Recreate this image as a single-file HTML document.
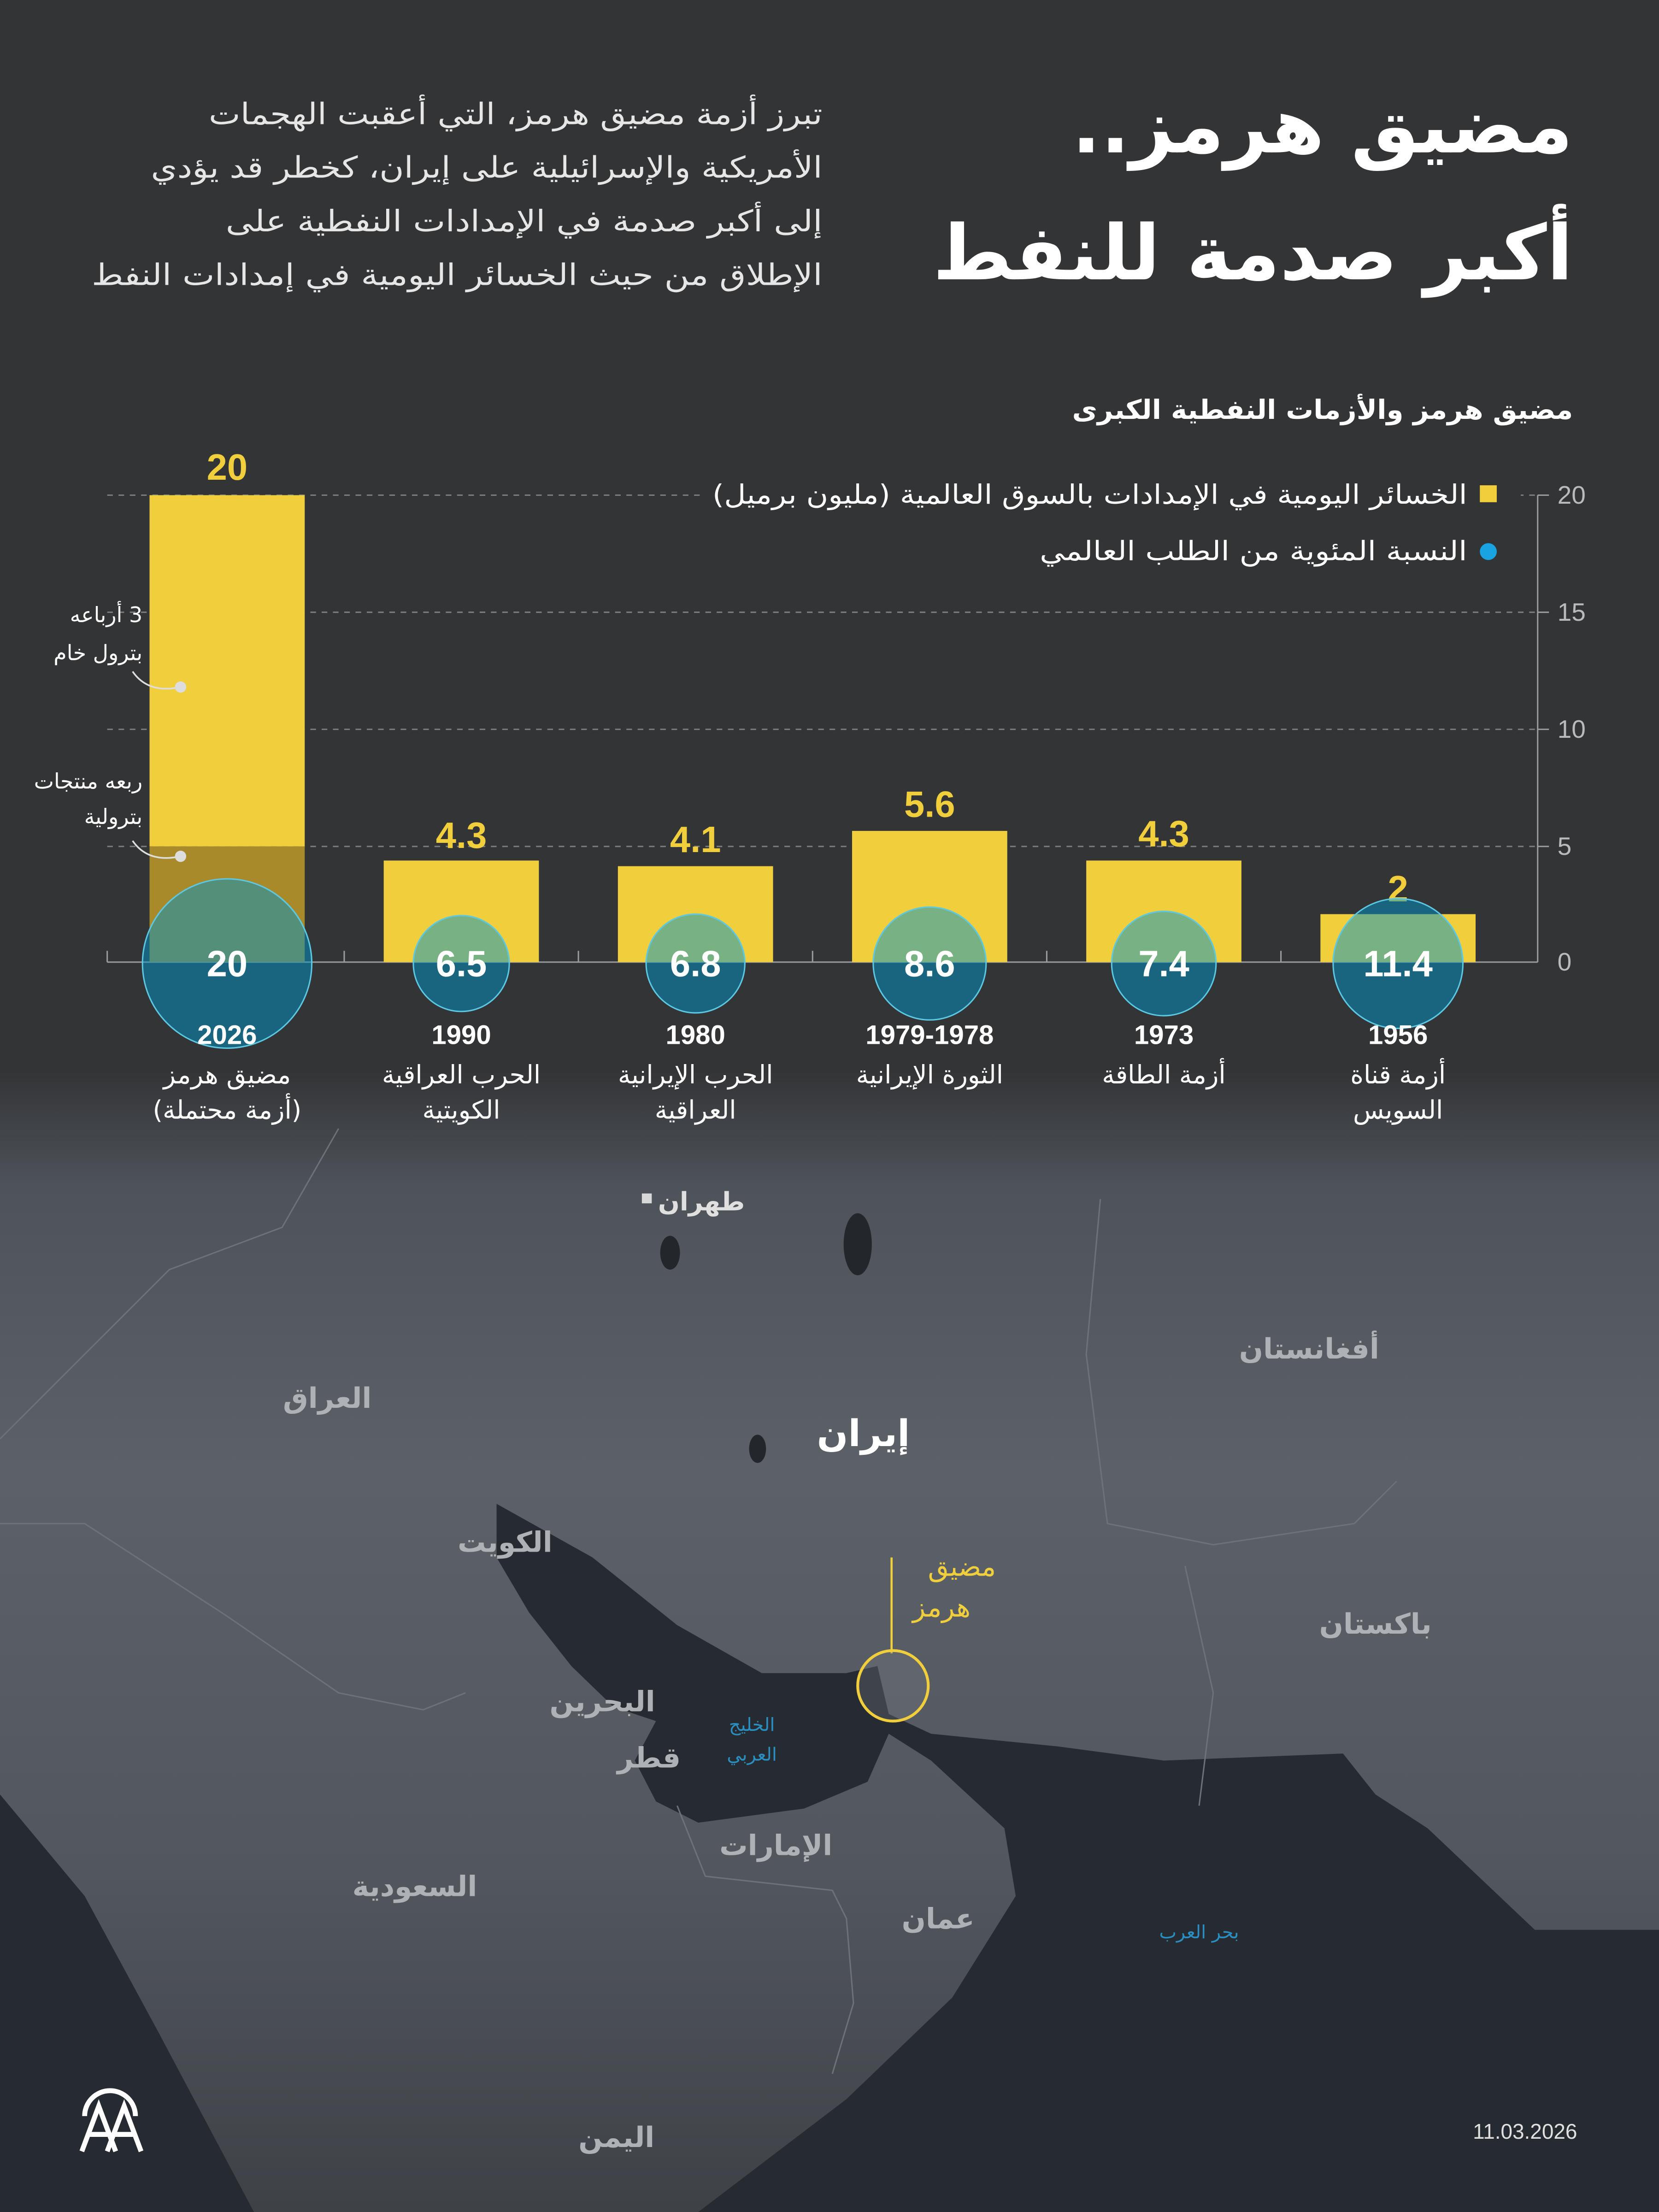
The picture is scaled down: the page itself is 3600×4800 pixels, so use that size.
<!DOCTYPE html>
<html><head><meta charset="utf-8">
<style>html,body{margin:0;padding:0;background:#323436}svg{display:block}</style>
</head><body>
<svg width="3600" height="4800" viewBox="0 0 1176 1568" xmlns="http://www.w3.org/2000/svg" font-family="'DejaVu Sans','Liberation Sans',sans-serif">
<defs>
<linearGradient id="land" x1="0" y1="0" x2="0" y2="1">
<stop offset="0" stop-color="#333537"/>
<stop offset="0.1" stop-color="#4e535a"/>
<stop offset="0.35" stop-color="#5c6168"/>
<stop offset="0.7" stop-color="#52575e"/>
<stop offset="1" stop-color="#3e4247"/>
</linearGradient>
</defs>
<rect width="1176" height="1568" fill="#323436"/>
<rect x="0" y="760" width="1176" height="808" fill="url(#land)"/>
<path d="M352,1066 L420,1104 L480,1152 L540,1186 L600,1186 L622,1181 L630,1215 L660,1229 L750,1238 L825,1248 L952,1243 L975,1272 L1012,1296 L1088,1368 L1176,1368 L1176,1568 L495,1568 L600,1488 L675,1416 L720,1344 L712,1296 L660,1248 L630,1229 L615,1263 L570,1282 L495,1292 L465,1277 L450,1248 L465,1220 L435,1210 L405,1181 L375,1143 L352,1104 Z" fill="#262b31"/>
<path d="M0,1272 L60,1344 L112,1440 L180,1568 L0,1568 Z" fill="#262b31"/>
<ellipse cx="608" cy="882" rx="10" ry="22" fill="#23272c"/>
<ellipse cx="475" cy="888" rx="7" ry="12" fill="#23272c"/>
<ellipse cx="537" cy="1027" rx="6" ry="10" fill="#23272c"/>
<g fill="none" stroke="#6d7279" stroke-width="1">
<path d="M0,1020 L120,900 L200,870 L240,800"/>
<path d="M0,1080 L60,1080 L160,1145 L240,1200 L300,1212 L330,1200"/>
<path d="M780,850 L770,960 L785,1080 L860,1095 L960,1080 L990,1050"/>
<path d="M840,1110 L860,1200 L850,1280"/>
<path d="M480,1280 L500,1330 L590,1340 L600,1360 L605,1420 L590,1470"/>
</g>
<g font-weight="bold" fill="#aeb1b5" font-size="20" direction="rtl" text-anchor="middle">
<text x="232" y="998">العراق</text>
<text x="928" y="963">أفغانستان</text>
<text x="358" y="1100">الكويت</text>
<text x="975" y="1158">باكستان</text>
<text x="427" y="1213">البحرين</text>
<text x="460" y="1253">قطر</text>
<text x="550" y="1315">الإمارات</text>
<text x="294" y="1344">السعودية</text>
<text x="665" y="1367">عمان</text>
<text x="437" y="1522">اليمن</text>
</g>
<text x="612" y="1025" font-size="26" font-weight="bold" fill="#ffffff" text-anchor="middle">إيران</text>
<rect x="455" y="846" width="7" height="7" fill="#d8d8d8"/>
<text x="528" y="858" font-size="18" font-weight="bold" fill="#e0e0e0" direction="rtl" text-anchor="start">طهران</text>
<g fill="#2a8fc0" font-size="13" text-anchor="middle">
<text x="533" y="1227">الخليج</text>
<text x="533" y="1248">العربي</text>
<text x="850" y="1374">بحر العرب</text>
</g>
<line x1="632" y1="1104" x2="632" y2="1172" stroke="#f0ce3c" stroke-width="1.5"/>
<circle cx="633" cy="1195" r="25" fill="rgba(120,125,130,0.3)" stroke="#f0ce3c" stroke-width="2"/>
<g fill="#f0ce3c" font-size="19">
<text x="706" y="1117" direction="rtl" text-anchor="start">مضيق</text>
<text x="688" y="1146" direction="rtl" text-anchor="start">هرمز</text>
</g>
<g fill="none" stroke="#ffffff" stroke-width="3.5">
<path d="M60,1500 A18,18 0 0 1 96,1500"/>
<path d="M58,1525 L70,1493 L82,1525 M63,1513 L77,1513"/>
<path d="M76,1525 L88,1493 L100,1525 M81,1513 L95,1513"/>
</g>
<text x="1118" y="1516" font-size="15" fill="#e0e0e0" text-anchor="end" font-family="'Liberation Sans',sans-serif">11.03.2026</text>

<g fill="#ffffff" font-weight="bold" direction="rtl" text-anchor="start">
<text x="1115" y="108" font-size="54">مضيق هرمز..</text>
<text x="1115" y="198" font-size="54">أكبر صدمة للنفط</text>
</g>
<g fill="#e6e6e6" font-size="21" direction="rtl" text-anchor="start" lengthAdjust="spacingAndGlyphs">
<text x="583" y="88" textLength="435" lengthAdjust="spacingAndGlyphs">تبرز أزمة مضيق هرمز، التي أعقبت الهجمات</text>
<text x="583" y="126" textLength="476" lengthAdjust="spacingAndGlyphs">الأمريكية والإسرائيلية على إيران، كخطر قد يؤدي</text>
<text x="583" y="164" textLength="423" lengthAdjust="spacingAndGlyphs">إلى أكبر صدمة في الإمدادات النفطية على</text>
<text x="583" y="202" textLength="518" lengthAdjust="spacingAndGlyphs">الإطلاق من حيث الخسائر اليومية في إمدادات النفط</text>
</g>
<text x="1115" y="297" font-size="19" font-weight="bold" fill="#ffffff" direction="rtl" text-anchor="start" textLength="355" lengthAdjust="spacingAndGlyphs">مضيق هرمز والأزمات النفطية الكبرى</text>

<g stroke="#7a7c7e" stroke-width="1" stroke-dasharray="4,4">
<line x1="76" y1="351" x2="1090" y2="351"/>
<line x1="76" y1="434" x2="1090" y2="434"/>
<line x1="76" y1="517" x2="1090" y2="517"/>
<line x1="76" y1="600" x2="1090" y2="600"/>
</g>
<rect x="498" y="335" width="580" height="36" fill="#323436"/>
<rect x="726" y="375" width="352" height="34" fill="#323436"/>
<g stroke="#9a9c9e" stroke-width="1">
<line x1="1090" y1="351" x2="1090" y2="682"/>
<line x1="76" y1="682" x2="1090" y2="682"/>
<line x1="1090" y1="351" x2="1098" y2="351"/><line x1="1090" y1="434" x2="1098" y2="434"/>
<line x1="1090" y1="517" x2="1098" y2="517"/><line x1="1090" y1="600" x2="1098" y2="600"/>
<line x1="76" y1="674" x2="76" y2="682"/><line x1="244" y1="674" x2="244" y2="682"/>
<line x1="410" y1="674" x2="410" y2="682"/><line x1="576" y1="674" x2="576" y2="682"/>
<line x1="742" y1="674" x2="742" y2="682"/><line x1="908" y1="674" x2="908" y2="682"/>
</g>
<g fill="#b8babc" font-size="18" font-family="'Liberation Sans',sans-serif">
<text x="1104" y="357">20</text><text x="1104" y="440">15</text><text x="1104" y="523">10</text>
<text x="1104" y="606">5</text><text x="1104" y="688">0</text>
</g>
<rect x="1049" y="344" width="12" height="12" fill="#f0ce3c"/>
<circle cx="1055" cy="391" r="6" fill="#19a3e0"/>
<g fill="#ffffff" font-size="19" direction="rtl" text-anchor="start">
<text x="1040" y="357" textLength="535" lengthAdjust="spacingAndGlyphs">الخسائر اليومية في الإمدادات بالسوق العالمية (مليون برميل)</text>
<text x="1040" y="397" textLength="303" lengthAdjust="spacingAndGlyphs">النسبة المئوية من الطلب العالمي</text>
</g>
<rect x="106" y="351" width="110" height="249" fill="#f0ce3c"/>
<rect x="106" y="600" width="110" height="82" fill="#a88a2a"/>
<rect x="272" y="610" width="110" height="72" fill="#f0ce3c"/>
<rect x="438" y="614" width="110" height="68" fill="#f0ce3c"/>
<rect x="604" y="589" width="110" height="93" fill="#f0ce3c"/>
<rect x="770" y="610" width="110" height="72" fill="#f0ce3c"/>
<rect x="936" y="648" width="110" height="34" fill="#f0ce3c"/>
<g fill="#f0ce3c" font-size="26" font-weight="bold" text-anchor="middle" font-family="'Liberation Sans',sans-serif">
<text x="161" y="340">20</text><text x="327" y="601">4.3</text><text x="493" y="604">4.1</text>
<text x="659" y="579">5.6</text><text x="825" y="600">4.3</text><text x="991" y="639">2</text>
</g>
<g fill="rgba(0,150,200,0.5)" stroke="#5cc8e4" stroke-width="1">
<circle cx="161" cy="683" r="60"/>
<circle cx="327" cy="683" r="34"/>
<circle cx="493" cy="683" r="35"/>
<circle cx="659" cy="683" r="40"/>
<circle cx="825" cy="683" r="37"/>
<circle cx="991" cy="683" r="46"/>
</g>
<g fill="#ffffff" font-size="26" font-weight="bold" text-anchor="middle" font-family="'Liberation Sans',sans-serif">
<text x="161" y="692">20</text><text x="327" y="692">6.5</text><text x="493" y="692">6.8</text>
<text x="659" y="692">8.6</text><text x="825" y="692">7.4</text><text x="991" y="692">11.4</text>
</g>
<g fill="#ffffff" font-size="19" font-weight="bold" text-anchor="middle" font-family="'Liberation Sans',sans-serif">
<text x="161" y="740">2026</text><text x="327" y="740">1990</text><text x="493" y="740">1980</text>
<text x="659" y="740">1979-1978</text><text x="825" y="740">1973</text><text x="991" y="740">1956</text>
</g>
<g fill="#ffffff" font-size="18" text-anchor="middle" direction="rtl">
<text x="161" y="768">مضيق هرمز</text><text x="161" y="793">(أزمة محتملة)</text>
<text x="327" y="768">الحرب العراقية</text><text x="327" y="793">الكويتية</text>
<text x="493" y="768">الحرب الإيرانية</text><text x="493" y="793">العراقية</text>
<text x="659" y="768">الثورة الإيرانية</text>
<text x="825" y="768">أزمة الطاقة</text>
<text x="991" y="768">أزمة قناة</text><text x="991" y="793">السويس</text>
</g>
<g fill="#ffffff" font-size="15" direction="rtl" text-anchor="start">
<text x="101" y="441">3 أرباعه</text><text x="101" y="468">بترول خام</text>
<text x="101" y="559">ربعه منتجات</text><text x="101" y="584">بترولية</text>
</g>
<g stroke="#dddddd" fill="none" stroke-width="1.2">
<path d="M128,487 Q105,492 94,476"/><path d="M128,607 Q105,612 94,596"/>
</g>
<circle cx="128" cy="487" r="4" fill="#dddddd"/><circle cx="128" cy="607" r="4" fill="#dddddd"/>
</svg>
</body></html>
